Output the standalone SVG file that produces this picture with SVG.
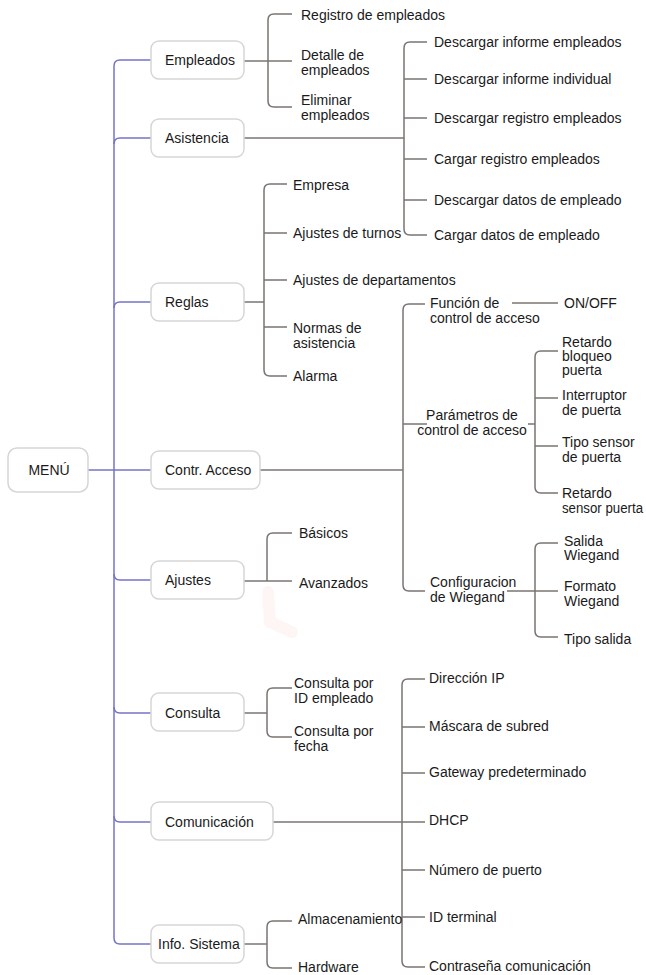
<svg xmlns="http://www.w3.org/2000/svg" width="646" height="975" viewBox="0 0 646 975">
<style>
.box{fill:#fff;stroke:#d6d6d6;stroke-width:1.5}
.t{font-family:"Liberation Sans",Arial,sans-serif;font-size:14px;fill:#1a1a1a}
.m{text-anchor:middle}
.b{fill:none;stroke:#7a7470;stroke-width:1.5}
.p{fill:none;stroke:#7474c8;stroke-width:1.5}
</style>
<rect width="646" height="975" fill="#fff"/>
<path d="M268,592 L270,622 L292,632" fill="none" stroke="#fef6f5" stroke-width="12" stroke-linecap="round" stroke-linejoin="round"/>
<g id="connectors">
  <path class="p" d="M114,66 L114,938"/>
  <path class="p" d="M88,470 L151,470"/>
  <path class="p" d="M114,66 Q114,60 120,60 L151,60"/>
  <path class="p" d="M114,144 Q114,138 120,138 L151,138"/>
  <path class="p" d="M114,308 Q114,302 120,302 L151,302"/>
  <path class="p" d="M114,574 Q114,580 120,580 L151,580"/>
  <path class="p" d="M114,707 Q114,713 120,713 L151,713"/>
  <path class="p" d="M114,816 Q114,822 120,822 L151,822"/>
  <path class="p" d="M114,938 Q114,944 120,944 L151,944"/>
  <path class="b" d="M292,14 L274,14 Q268,14 268,20 L268,101 Q268,107 274,107 L292,107"/>
  <path class="b" d="M244,61 L292,61"/>
  <path class="b" d="M427,42 L410,42 Q404,42 404,48 L404,229 Q404,235 410,235 L427,235"/>
  <path class="b" d="M244,138 L404,138"/>
  <path class="b" d="M404,79 L427,79 M404,118 L427,118 M404,159 L427,159 M404,200 L427,200"/>
  <path class="b" d="M287,184 L270,184 Q264,184 264,190 L264,370 Q264,376 270,376 L287,376"/>
  <path class="b" d="M244,302 L264,302"/>
  <path class="b" d="M264,233 L287,233 M264,280 L287,280 M264,327 L287,327"/>
  <path class="b" d="M425,304 L409,304 Q403,304 403,310 L403,585 Q403,591 409,591 L425,591"/>
  <path class="b" d="M260,470 L403,470"/>
  <path class="b" d="M403,424 L427,424"/>
  <path class="b" d="M512,303 L558,303"/>
  <path class="b" d="M528,424 L535,424"/>
  <path class="b" d="M558,351 L541,351 Q535,351 535,357 L535,487 Q535,493 541,493 L558,493"/>
  <path class="b" d="M535,398 L558,398 M535,446 L558,446"/>
  <path class="b" d="M558,543 L541,543 Q535,543 535,549 L535,631 Q535,637 541,637 L558,637"/>
  <path class="b" d="M507,591 L558,591"/>
  <path class="b" d="M292,533 L273,533 Q267,533 267,539 L267,581"/>
  <path class="b" d="M244,581 L292,581"/>
  <path class="b" d="M292,688 L273,688 Q267,688 267,694 L267,731 Q267,737 273,737 L292,737"/>
  <path class="b" d="M244,713 L267,713"/>
  <path class="b" d="M425,679 L408,679 Q402,679 402,685 L402,961 Q402,967 408,967 L425,967"/>
  <path class="b" d="M273,822 L425,822"/>
  <path class="b" d="M402,727 L425,727 M402,773 L425,773 M402,870 L425,870 M402,917 L425,917"/>
  <path class="b" d="M292,921 L273,921 Q267,921 267,927 L267,962 Q267,968 273,968 L292,968"/>
  <path class="b" d="M244,944 L267,944"/>
</g>
<g id="menu"><rect class="box" x="8" y="448" width="80" height="44" rx="9"/><text class="t m" x="49" y="475">MENÚ</text></g>
<g id="empleados"><rect class="box" x="151" y="41" width="93" height="38" rx="8"/><text class="t" x="165" y="65">Empleados</text></g>
<g id="asistencia"><rect class="box" x="151" y="119" width="93" height="38" rx="8"/><text class="t" x="165" y="143">Asistencia</text></g>
<g id="reglas"><rect class="box" x="151" y="283" width="93" height="38" rx="8"/><text class="t" x="165" y="307">Reglas</text></g>
<g id="contr-acceso"><rect class="box" x="151" y="451" width="109" height="38" rx="8"/><text class="t" x="165" y="475">Contr. Acceso</text></g>
<g id="ajustes"><rect class="box" x="151" y="561" width="93" height="38" rx="8"/><text class="t" x="165" y="585">Ajustes</text></g>
<g id="consulta"><rect class="box" x="151" y="693" width="93" height="38" rx="8"/><text class="t" x="165" y="718">Consulta</text></g>
<g id="comunicacion"><rect class="box" x="151" y="802" width="122" height="38" rx="8"/><text class="t" x="165" y="827">Comunicación</text></g>
<g id="info-sistema"><rect class="box" x="151" y="925" width="93" height="38" rx="8"/><text class="t" x="158" y="949">Info. Sistema</text></g>

<g id="empleados-kids">
  <text class="t" x="301" y="20">Registro de empleados</text>
  <text class="t" x="301" y="60">Detalle de<tspan x="301" dy="15">empleados</tspan></text>
  <text class="t" x="301" y="105">Eliminar<tspan x="301" dy="15">empleados</tspan></text>
</g>
<g id="asistencia-kids">
  <text class="t" x="434" y="47">Descargar informe empleados</text>
  <text class="t" x="434" y="84">Descargar informe individual</text>
  <text class="t" x="434" y="123">Descargar registro empleados</text>
  <text class="t" x="434" y="164">Cargar registro empleados</text>
  <text class="t" x="434" y="205">Descargar datos de empleado</text>
  <text class="t" x="434" y="240">Cargar datos de empleado</text>
</g>
<g id="reglas-kids">
  <text class="t" x="293" y="190">Empresa</text>
  <text class="t" x="293" y="238">Ajustes de turnos</text>
  <text class="t" x="293" y="285">Ajustes de departamentos</text>
  <text class="t" x="293" y="333">Normas de<tspan x="293" dy="15">asistencia</tspan></text>
  <text class="t" x="293" y="381">Alarma</text>
</g>
<g id="acceso-kids">
  <text class="t" x="430" y="308">Función de<tspan x="430" dy="15">control de acceso</tspan></text>
  <text class="t" x="564" y="308">ON/OFF</text>
  <text class="t m" x="472" y="420">Parámetros de<tspan x="472" dy="15">control de acceso</tspan></text>
  <text class="t" x="562" y="347">Retardo<tspan x="562" dy="14">bloqueo</tspan><tspan x="562" dy="14">puerta</tspan></text>
  <text class="t" x="562" y="400">Interruptor<tspan x="562" dy="15">de puerta</tspan></text>
  <text class="t" x="562" y="447">Tipo sensor<tspan x="562" dy="15">de puerta</tspan></text>
  <text class="t" x="562" y="498">Retardo</text>
  <text class="t" x="562" y="513" textLength="81" lengthAdjust="spacingAndGlyphs">sensor puerta</text>
  <text class="t" x="430" y="587">Configuracion<tspan x="430" dy="15">de Wiegand</tspan></text>
  <text class="t" x="564" y="546">Salida<tspan x="564" dy="14">Wiegand</tspan></text>
  <text class="t" x="564" y="591">Formato<tspan x="564" dy="15">Wiegand</tspan></text>
  <text class="t" x="564" y="644">Tipo salida</text>
</g>
<g id="ajustes-kids">
  <text class="t" x="299" y="538">Básicos</text>
  <text class="t" x="299" y="588">Avanzados</text>
</g>
<g id="consulta-kids">
  <text class="t" x="294" y="688">Consulta por<tspan x="294" dy="15">ID empleado</tspan></text>
  <text class="t" x="294" y="736">Consulta por<tspan x="294" dy="15">fecha</tspan></text>
</g>
<g id="comunicacion-kids">
  <text class="t" x="429" y="683">Dirección IP</text>
  <text class="t" x="429" y="731">Máscara de subred</text>
  <text class="t" x="429" y="777">Gateway predeterminado</text>
  <text class="t" x="429" y="825">DHCP</text>
  <text class="t" x="429" y="875">Número de puerto</text>
  <text class="t" x="429" y="922">ID terminal</text>
  <text class="t" x="429" y="971">Contraseña comunicación</text>
</g>
<g id="info-kids">
  <text class="t" x="298" y="924">Almacenamiento</text>
  <text class="t" x="298" y="972">Hardware</text>
</g>
</svg>
